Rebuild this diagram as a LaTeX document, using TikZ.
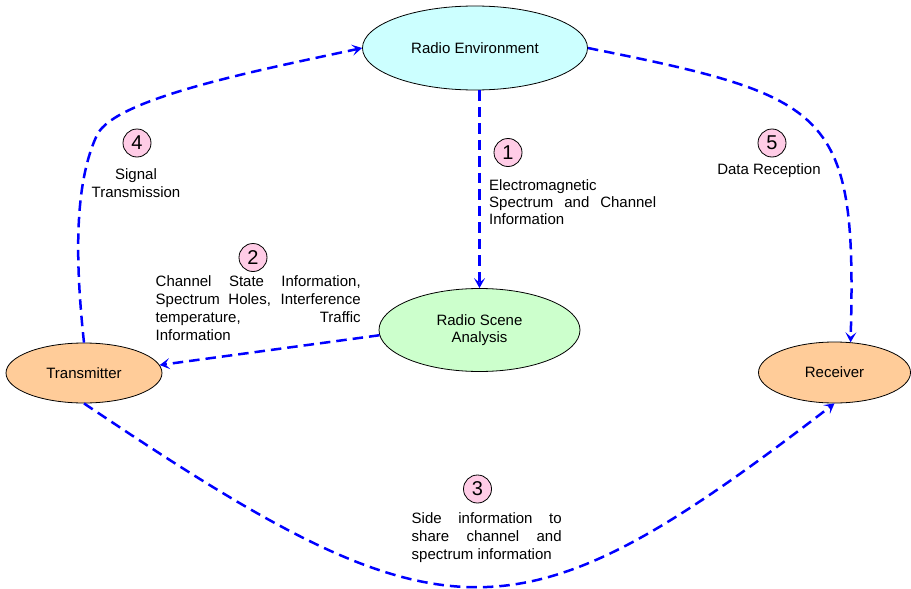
\documentclass[tikz,border=0pt]{standalone}
\usepackage{fontspec}
\setmainfont{Liberation Sans}
\usetikzlibrary{shapes.geometric,arrows.meta}
\definecolor{envfill}{HTML}{CCFFFF}
\definecolor{scenefill}{HTML}{CCFFCC}
\definecolor{trxfill}{HTML}{FFCC99}
\definecolor{numfill}{HTML}{FFCCE6}
\begin{document}
\begin{tikzpicture}[x=1pt,y=-1pt,
  ell/.style={ellipse, draw=black, line width=0.8pt, inner sep=0pt,
    font=\fontsize{15}{17}\selectfont, align=center},
  num/.style={circle, draw=black, line width=0.8pt, fill=numfill,
    minimum size=28pt, inner sep=0pt, font=\fontsize{20}{20}\selectfont},
  conn/.style={draw=blue, line width=2.5pt, dash pattern=on 10.5pt off 6pt,
    -{Stealth[length=10pt,width=11pt,inset=4.5pt]}},
  lbl/.style={inner sep=0pt, font=\fontsize{15}{18}\selectfont}]
\useasboundingbox (0,0) rectangle (911,589);

% main nodes
\node[ell, fill=envfill, minimum width=225pt, minimum height=84pt] (re) at (475,48) {Radio Environment};
\node[ell, fill=scenefill, minimum width=201pt, minimum height=83pt] (rsa) at (479.5,330) {Radio Scene\\Analysis};
\node[ell, fill=trxfill, minimum width=156pt, minimum height=60pt] (tx) at (84,373) {Transmitter};
\node[ell, fill=trxfill, minimum width=152pt, minimum height=61pt] (rx) at (834.5,372.5) {Receiver};

% numbers
\node[num] (n1) at (508,152.5) {1};
\node[num] (n2) at (253,257.5) {2};
\node[num] (n3) at (477.5,489) {3};
\node[num] (n4) at (137,143) {4};
\node[num] (n5) at (772,143) {5};

% labels
\node[lbl, anchor=base west] (t1) at (489,190) {\parbox[t]{167pt}{\fontsize{15}{17}\selectfont
  Electromagnetic\\\makebox[167pt][s]{Spectrum and Channel}\\Information}};
\node[lbl, anchor=base west] (t2) at (155.5,286.7) {\parbox[t]{205pt}{\fontsize{15}{17.8}\selectfont
  \makebox[205pt][s]{Channel State Information,}\\\makebox[205pt][s]{Spectrum Holes, Interference}\\\makebox[205pt][s]{temperature, Traffic}\\Information}};
\node[lbl, anchor=base west] (t3) at (411.5,523.3) {\parbox[t]{150pt}{\fontsize{15}{18}\selectfont
  \makebox[150pt][s]{Side information to}\\\makebox[150pt][s]{share channel and}\\spectrum information}};
\node[lbl, anchor=base] (t4) at (136,179) {\parbox[t]{110pt}{\centering\fontsize{15}{18.5}\selectfont Signal\\Transmission}};
\node[lbl, anchor=base] (t5) at (769,174) {Data Reception};

% connectors
\draw[conn] (rsa.north |- re.south) -- (rsa.north);
\draw[conn] (rsa.183) -- (tx.6);
\draw[conn] (tx.south) .. controls (447,648) and (516,648) .. (rx.south);
\draw[conn] (tx.north) .. controls (74,250) and (76,180) .. (97,135)
  .. controls (115,98) and (260,70) .. (re.west);
\draw[conn] (re.east) .. controls (832,97) and (857,110) .. (rx.62);
\end{tikzpicture}
\end{document}
